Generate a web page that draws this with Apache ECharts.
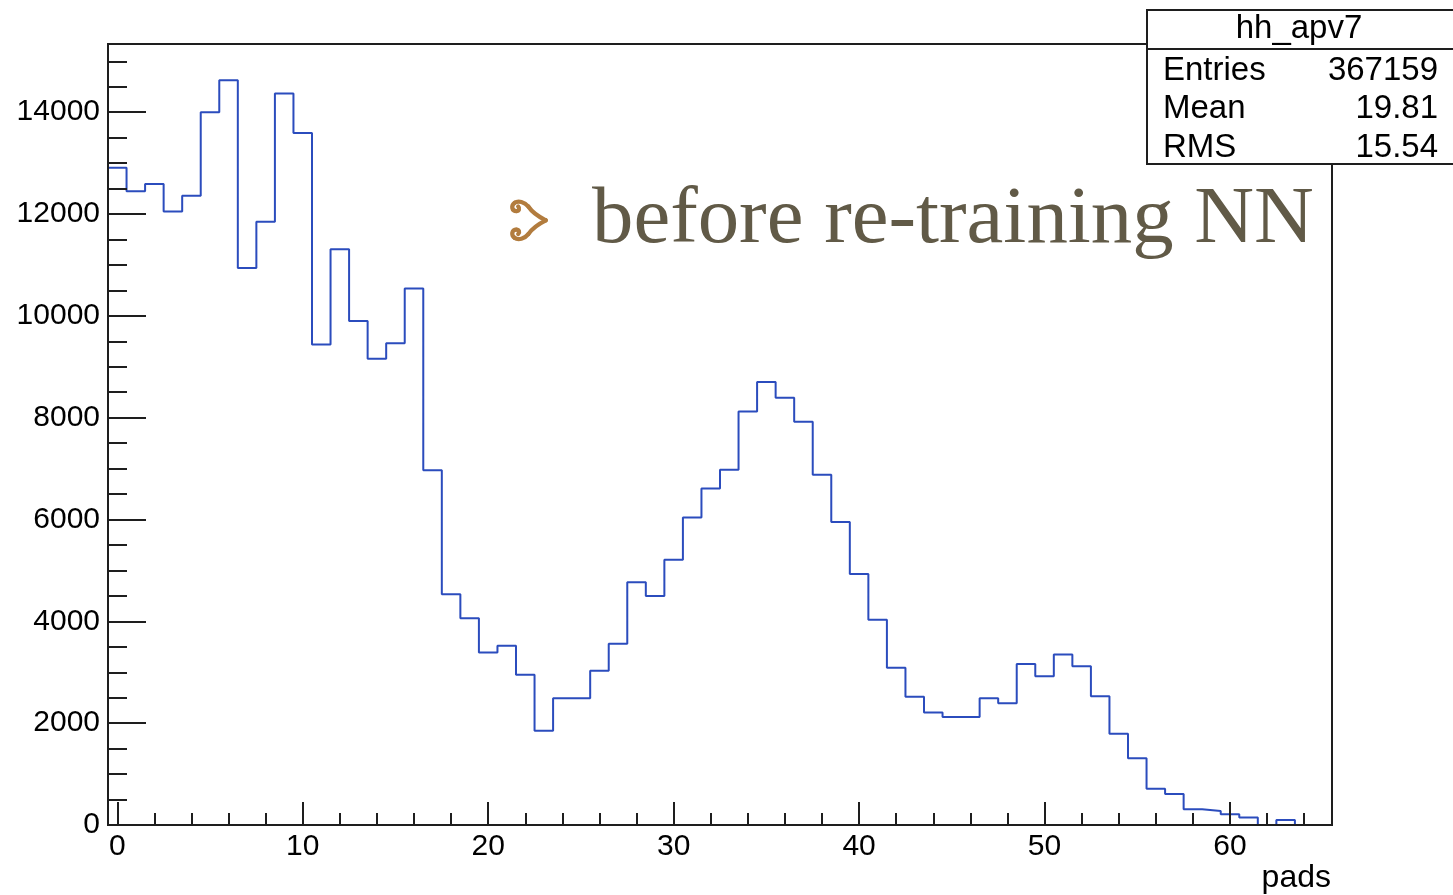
<!DOCTYPE html>
<html>
<head>
<meta charset="utf-8">
<title>hh_apv7</title>
<script src="https://cdn.jsdelivr.net/npm/echarts@6/dist/echarts.min.js"></script>
<style>
  html, body { margin: 0; padding: 0; background: #ffffff; }
  #chart { width: 1453px; height: 895px; }
</style>
</head>
<body>
<div id="chart"></div>
<script>
// Histogram hh_apv7: counts per pad, one bin per unit, bins centred on 0..65
const bins = [
  0, 1, 2, 3, 4, 5, 6, 7, 8, 9,
  10, 11, 12, 13, 14, 15, 16, 17, 18, 19,
  20, 21, 22, 23, 24, 25, 26, 27, 28, 29,
  30, 31, 32, 33, 34, 35, 36, 37, 38, 39,
  40, 41, 42, 43, 44, 45, 46, 47, 48, 49,
  50, 51, 52, 53, 54, 55, 56, 57, 58, 59,
  60, 61, 62, 63, 64, 65
];
const counts = [
  12910, 12450, 12590, 12050, 12360, 14000, 14630, 10940, 11850, 14370,
  13590, 9440, 11310, 9900, 9160, 9460, 10540, 6970, 4530, 4060,
  3390, 3520, 2950, 1850, 2490, 2490, 3030, 3560, 4770, 4500,
  5210, 6040, 6610, 6980, 8120, 8700, 8390, 7920, 6880, 5950,
  4930, 4030, 3090, 2520, 2210, 2120, 2120, 2490, 2390, 3160,
  2920, 3350, 3120, 2530, 1790, 1310, 710, 610, 310, 275,
  210, 145, 0, 100, 0, 0
];
const binWidth = 1;

// Axis ticks and labels
const xMajorTicks = [0, 10, 20, 30, 40, 50, 60];
const xMinorTicks = [2, 4, 6, 8, 12, 14, 16, 18, 22, 24, 26, 28, 32, 34, 36, 38,
                     42, 44, 46, 48, 52, 54, 56, 58, 62, 64];
const yMajorTicks = [0, 2000, 4000, 6000, 8000, 10000, 12000, 14000];
const yMinorTicks = [500, 1000, 1500, 2500, 3000, 3500, 4500, 5000, 5500, 6500, 7000, 7500,
                     8500, 9000, 9500, 10500, 11000, 11500, 12500, 13000, 13500, 14500, 15000];
const xRange = [-0.5, 65.5];
const yRange = [0, 15340];

// Statistics box contents
const statsTitle = 'hh_apv7';
const statsLabels = ['Entries', 'Mean', 'RMS'];
const statsValues = ['367159', '19.81', '15.54'];

const xTitle = 'pads';
const noteText = 'before re-training NN';

// Outline of the histogram: each bin contributes its two top corners,
// consecutive corners are joined so the risers appear between bins.
const outline = [[bins[0] - binWidth / 2, 0]];
bins.forEach(function (c, i) {
  outline.push([c - binWidth / 2, counts[i]]);
  outline.push([c + binWidth / 2, counts[i]]);
});
outline.push([bins[bins.length - 1] + binWidth / 2, 0]);

const INK = '#1e1e1e';
const SANS = '"Liberation Sans", Arial, Helvetica, sans-serif';

// Ornamental bullet: two curled arms meeting at a point on the right.
// Each entry is a cubic segment [x1, y1, cp1x, cp1y, cp2x, cp2y, x2, y2] for the upper arm;
// the lower arm is its mirror image.
const curlUpper = [
  [40, 21, 32, 17, 25, 12, 21, 6],
  [21, 6, 17, 1, 10, -1, 6, 2],
  [6, 2, 2, 5, 3, 11, 8, 11],
  [8, 11, 11, 11, 12, 8, 10, 6]
];
function curlPiece(s, mirror) {
  const fy = function (y) { return mirror ? 42 - y : y; };
  return {
    type: 'bezierCurve',
    shape: { x1: s[0], y1: fy(s[1]), cpx1: s[2], cpy1: fy(s[3]),
             cpx2: s[4], cpy2: fy(s[5]), x2: s[6], y2: fy(s[7]) },
    style: { stroke: '#b27c3e', lineWidth: 4.6, lineCap: 'round', lineJoin: 'round', fill: null }
  };
}
const bulletPieces = curlUpper.map(function (s) { return curlPiece(s, false); })
  .concat(curlUpper.map(function (s) { return curlPiece(s, true); }));

const chart = echarts.init(document.getElementById('chart'), null, { renderer: 'canvas' });

const statsRowY = [71, 109, 148];
const STATS_FONT = '33px ' + SANS;

const graphic = [
  {
    type: 'group', z: 20,
    children: [
      { type: 'rect', shape: { x: 1147, y: 10, width: 330, height: 154 },
        style: { fill: '#ffffff', stroke: INK, lineWidth: 2 } },
      { type: 'line', shape: { x1: 1147, y1: 49, x2: 1480, y2: 49 },
        style: { stroke: INK, lineWidth: 2 } },
      { type: 'text', x: 1299, y: 29,
        style: { text: statsTitle, font: STATS_FONT, fill: '#000',
                 align: 'center', verticalAlign: 'middle' } }
    ].concat(statsLabels.map(function (lab, i) {
      return { type: 'text', x: 1163, y: statsRowY[i],
        style: { text: lab, font: STATS_FONT, fill: '#000',
                 align: 'left', verticalAlign: 'middle' } };
    })).concat(statsValues.map(function (val, i) {
      return { type: 'text', x: 1438, y: statsRowY[i],
        style: { text: val, font: STATS_FONT, fill: '#000',
                 align: 'right', verticalAlign: 'middle' } };
    }))
  },
  {
    type: 'group', z: 20, x: 509, y: 201, scaleX: 0.92, scaleY: 0.92,
    children: bulletPieces
  },
  {
    type: 'text', z: 20, x: 592, y: 221, scaleX: 1.035, scaleY: 1,
    style: { text: noteText, font: '80px "Liberation Serif", "Times New Roman", serif',
             fill: '#615a47', align: 'left', verticalAlign: 'middle' }
  },
  {
    type: 'text', z: 20, x: 1331, y: 878,
    style: { text: xTitle, font: '32px ' + SANS, fill: '#000',
             align: 'right', verticalAlign: 'middle' }
  }
];

function plainNumber(v) { return String(v); }

const option = {
  animation: false,
  backgroundColor: '#ffffff',
  grid: {
    left: 108, right: 121, top: 44, bottom: 70,
    containLabel: false, outerBoundsMode: 'none',
    show: true, borderColor: INK, borderWidth: 2, backgroundColor: 'transparent'
  },
  xAxis: [
    {
      type: 'value', min: xRange[0], max: xRange[1], position: 'bottom', z: 5,
      axisLine: { show: true, onZero: false, lineStyle: { color: INK, width: 2 } },
      axisTick: { show: true, inside: true, length: 23, customValues: xMajorTicks,
                  lineStyle: { color: INK, width: 2 } },
      axisLabel: { show: true, customValues: xMajorTicks, fontSize: 30, fontFamily: SANS,
                   color: '#000', margin: 7, formatter: plainNumber },
      splitLine: { show: false }, minorTick: { show: false }
    },
    {
      type: 'value', min: xRange[0], max: xRange[1], position: 'bottom', z: 5,
      axisLine: { show: false, onZero: false },
      axisTick: { show: true, inside: true, length: 12, customValues: xMinorTicks,
                  lineStyle: { color: INK, width: 2 } },
      axisLabel: { show: false },
      splitLine: { show: false }
    }
  ],
  yAxis: [
    {
      type: 'value', min: yRange[0], max: yRange[1], position: 'left', z: 5,
      axisLine: { show: true, onZero: false, lineStyle: { color: INK, width: 2 } },
      axisTick: { show: true, inside: true, length: 38, customValues: yMajorTicks,
                  lineStyle: { color: INK, width: 2 } },
      axisLabel: { show: true, customValues: yMajorTicks, fontSize: 30, fontFamily: SANS,
                   color: '#000', margin: 8, formatter: plainNumber },
      splitLine: { show: false }
    },
    {
      type: 'value', min: yRange[0], max: yRange[1], position: 'left', z: 5,
      axisLine: { show: false, onZero: false },
      axisTick: { show: true, inside: true, length: 19, customValues: yMinorTicks,
                  lineStyle: { color: INK, width: 2 } },
      axisLabel: { show: false },
      splitLine: { show: false }
    }
  ],
  series: [
    {
      type: 'line', name: statsTitle, xAxisIndex: 0, yAxisIndex: 0,
      data: outline, showSymbol: false, symbol: 'none', smooth: false,
      lineStyle: { color: '#2b4cbd', width: 2 }, z: 2
    }
  ],
  graphic: graphic
};

chart.setOption(option);
</script>
</body>
</html>
